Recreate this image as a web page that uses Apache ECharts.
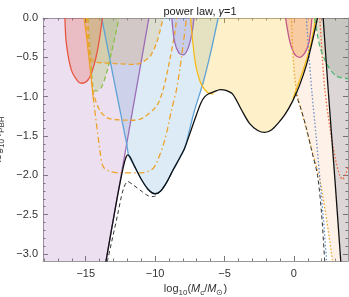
<!DOCTYPE html>
<html><head><meta charset="utf-8">
<script src="https://cdn.jsdelivr.net/npm/echarts@6/dist/echarts.min.js"></script>
<style>html,body{margin:0;padding:0;background:#fff}#c{width:349px;height:297px}</style>
</head><body><div id="c"></div>
<script>
// ---- tick labels ----
const xTickLabels = [-15, -10, -5, 0];
const xMinorTicks = [-18,-17,-16,-15,-14,-13,-12,-11,-10,-9,-8,-7,-6,-5,-4,-3,-2,-1,0,1,2,3];
const yTickLabels = [0, -0.5, -1, -1.5, -2, -2.5, -3];
const yMinorTicks = [0,-0.1,-0.2,-0.3,-0.4,-0.5,-0.6,-0.7,-0.8,-0.9,-1,-1.1,-1.2,-1.3,-1.4,-1.5,-1.6,-1.7,-1.8,-1.9,-2,-2.1,-2.2,-2.3,-2.4,-2.5,-2.6,-2.7,-2.8,-2.9,-3];

// ---- constraint regions (log10 M, log10 f) ----
const lavenderRegion = [[-18.1,0],[-10.45,0],[-13.55,-3.1],[-18.1,-3.1]];
const purpleLine = [[-13.55,-3.1],[-10.45,0]];
const blueCurve = [[-13.85,0],[-12.9,-0.85],[-12.06,-1.59],[-11.9,-1.75],[-11.5,-1.88],[-11,-2.05],[-10.5,-2.18],[-10.0,-2.235],[-9.6,-2.2],[-9.2,-2.1],[-8.7,-1.93],[-8.2,-1.77],[-7.86,-1.65],[-7.2,-1.2],[-6.54,-0.82],[-6.0,-0.44],[-5.46,0]];
const redCurve = [[-16.5,0],[-16.4,-0.32],[-16.04,-0.66],[-15.55,-0.81],[-15.3,-0.83],[-14.83,-0.785],[-14.47,-0.64],[-14.1,-0.36],[-13.8,0]];
const greenCurveL = [[-14.85,0],[-14.7,-0.4],[-14.5,-0.85],[-14.3,-0.93],[-13.9,-0.89],[-13.5,-0.7],[-13.15,-0.445],[-12.6,0]];
const orangeSolid = [[-15.12,0],[-14.9,-0.3],[-14.71,-0.6],[-14.47,-1.0]];
const orangeDash1 = [[-14.95,0],[-14.71,-0.49],[-14.3,-0.56],[-13.8,-0.57],[-11.5,-0.59],[-11,-0.57],[-10.38,-0.49],[-9.9,-0.32],[-9.42,0]];
const orangeDash2 = [[-14.85,0],[-14.5,-0.9],[-14.0,-1.17],[-13.3,-1.28],[-11.5,-1.3],[-10.87,-1.27],[-9.9,-1.12],[-9.42,-0.91],[-8.94,-0.53],[-8.58,-0.19],[-8.45,0]];
const orangeDashDot = [[-14.47,-1.0],[-13.98,-1.68],[-13.75,-1.89],[-13.27,-1.95],[-12.55,-1.97],[-11.1,-1.97],[-10.26,-1.93],[-9.9,-1.845],[-9.3,-1.55],[-8.82,-1.17],[-8.46,-0.91],[-8.1,-0.5],[-7.74,0]];
const purpleSmallU = [[-8.8,0],[-8.6,-0.3],[-8.3,-0.44],[-7.98,-0.47],[-7.62,-0.38],[-7.35,-0.2],[-7.2,0]];
const yellowCurve = [[-7.45,0],[-7.14,-0.53],[-6.9,-0.73],[-6.65,-0.85],[-6.2,-0.95],[-5.8,-0.965]];
const blackSolid = [[-13.55,-3.1],[-12.8,-2.35],[-12.3,-1.9],[-12.1,-1.77],[-11.97,-1.74],[-11.8,-1.77],[-11.5,-1.88],[-11,-2.05],[-10.5,-2.18],[-10.0,-2.235],[-9.6,-2.2],[-9.2,-2.1],[-8.7,-1.93],[-8.2,-1.77],[-7.86,-1.65],[-7.4,-1.42],[-7,-1.22],[-6.7,-1.08],[-6.42,-1.0],[-6.1,-0.96],[-5.8,-0.94],[-5.3,-0.91],[-4.9,-0.92],[-4.4,-0.97],[-3.77,-1.17],[-3.2,-1.34],[-2.6,-1.43],[-2.09,-1.455],[-1.6,-1.42],[-1.1,-1.33],[-0.65,-1.23],[-0.1,-1.06],[0.4,-0.86],[0.9,-0.6],[1.3,-0.32],[1.7,0]];
const blackDashL = [[-13.45,-3.1],[-12.7,-2.5],[-12.3,-2.18],[-11.97,-2.08],[-11.6,-2.12],[-11,-2.2],[-10.5,-2.26],[-10.1,-2.27],[-9.7,-2.22],[-9.2,-2.1],[-8.7,-1.93]];
const blackDashR = [[0.1,-0.95],[0.5,-1.15],[0.9,-1.4],[1.3,-1.7],[1.7,-2.0],[2.0,-2.5],[2.22,-3.1]];
const goldLine = [[-0.05,-1.02],[0.6,-0.7],[1.1,-0.42],[1.39,-0.19],[1.55,0]];
const pinkU = [[-0.6,0],[-0.29,-0.3],[0.05,-0.46],[0.4,-0.5],[0.8,-0.44],[1.1,-0.3],[1.3,0]];
const orangeDot1 = [[-0.17,0],[-0.05,-0.5],[0.19,-0.93],[0.8,-1.35],[1.4,-1.75],[1.87,-2.06],[2.3,-2.5],[2.8,-3.1]];
const blueDot = [[0.9,0],[1.1,-0.5],[1.3,-0.95],[1.6,-1.5],[1.9,-2.1],[2.15,-2.6],[2.36,-3.1]];
const redDot = [[1.87,0],[2.05,-0.5],[2.23,-0.91],[2.6,-1.4],[3.0,-1.8],[3.3,-2.0],[3.5,-2.05],[3.7,-2.0],[3.9,-1.9]];
const greenCurveR = [[1.5,0],[1.87,-0.36],[2.47,-0.615],[3.08,-0.74],[3.9,-0.77]];
const blackSteep = [[2.11,0],[2.47,-0.91],[2.96,-2.06],[3.38,-3.1]];

const C = {
  purple:'#9b6bb5', blue:'#5fa2d6', red:'#e8553f', green:'#8cc04a', green2:'#4fb874',
  orange:'#eda32b', yellow:'#f5bb16', pink:'#c2578a', redDot:'#ee6a3c', blueDot:'#6b8fc7'
};
const FONT = 'Liberation Sans';

function poly(points, fill) {
  return {
    type:'custom', silent:true, clip:true, z:1,
    data:[0],
    renderItem:function(params, api){
      return {type:'polygon', shape:{points:points.map(p=>api.coord(p))}, style:{fill:fill, stroke:null}};
    }
  };
}
function line(points, color, type, width, z) {
  return {type:'line', data:points, showSymbol:false, silent:true, smooth:0.3, z:z||3,
    lineStyle:{color:color, width:width||1.3, type:type||'solid'}, animation:false};
}
function xAx(pos, major, withLabel) {
  const a = {type:'value', min:-18.08, max:3.9, position:pos,
    axisLine:{show:major, onZero:false, lineStyle:{color:'#999', width:1}},
    axisTick:{show:true, inside:true, length:major?5:2.5, customValues:major?xTickLabels:xMinorTicks, lineStyle:{color:'#777'}},
    axisLabel:{show:false}, splitLine:{show:false}};
  if (withLabel) {
    a.axisLabel = {show:true, customValues:xTickLabels, color:'#333', fontSize:11, fontFamily:FONT, margin:7,
      formatter:v=> v<0 ? '\u2212'+(-v) : String(v)};
    a.name = 'log{s|10}({i|M}{s|c}/{i|M}{s|⊙})';
    a.nameLocation = 'middle'; a.nameGap = 20;
    a.nameTextStyle = {fontSize:11, color:'#333', fontFamily:FONT,
      rich:{s:{fontSize:8, padding:[6,0,0,0], color:'#333', fontFamily:FONT}, i:{fontStyle:'italic', fontSize:11, color:'#333', fontFamily:FONT}}};
  }
  return a;
}
function yAx(pos, major, withLabel) {
  const a = {type:'value', min:-3.09, max:0, position:pos,
    axisLine:{show:major, onZero:false, lineStyle:{color:'#999', width:1}},
    axisTick:{show:true, inside:true, length:major?5:2.5, customValues:major?yTickLabels:yMinorTicks, lineStyle:{color:'#777'}},
    axisLabel:{show:false}, splitLine:{show:false}};
  if (withLabel) {
    a.axisLabel = {show:true, customValues:yTickLabels, color:'#333', fontSize:11, fontFamily:FONT, margin:5,
      formatter:v=> (v<0 ? '\u2212' : '') + Math.abs(v).toFixed(1)};
    a.name = 'log{s|10} {i|f}{s|PBH}';
    a.nameLocation = 'middle'; a.nameGap = 34; a.nameRotate = 90;
    a.nameTextStyle = {fontSize:11, color:'#333', fontFamily:FONT,
      rich:{s:{fontSize:8, padding:[6,0,0,0], color:'#333', fontFamily:FONT}, i:{fontStyle:'italic', fontSize:11, color:'#333', fontFamily:FONT}}};
  }
  return a;
}

const yellowRegion = yellowCurve.concat(blackSolid.filter(p=>p[0]>-5.8 && p[0]< -0.05), goldLine);
const peachRegion = orangeDot1.concat(blackSteep.slice().reverse());
const grayRegion = blackSteep.concat([[3.95,-3.1],[3.95,0]]);
const greenRRegion = greenCurveR.concat([[3.95,0]]);
const orangeRegion = orangeSolid.slice(0,3).concat(orangeDash1.slice(2));

const option = {
  animation:false,
  title:{text:'power law, {i|γ}=1', left:195, top:1, textAlign:'center',
    textStyle:{fontSize:11, fontWeight:'normal', color:'#222', fontFamily:FONT,
      rich:{i:{fontStyle:'italic', fontSize:11, color:'#222', fontFamily:FONT}}}},
  grid:{left:43, top:18, right:1, bottom:36, containLabel:false, outerBoundsMode:'none'},
  xAxis:[ xAx('bottom', true, true), xAx('bottom', false, false), xAx('top', true, false), xAx('top', false, false) ],
  yAxis:[ yAx('left', true, true), yAx('left', false, false), yAx('right', true, false), yAx('right', false, false) ],
  series:[
    poly(lavenderRegion, 'rgba(170,110,180,0.22)'),
    poly(blueCurve, 'rgba(95,162,214,0.22)'),
    poly(yellowRegion, 'rgba(250,200,60,0.28)'),
    poly(orangeRegion, 'rgba(225,160,60,0.2)'),
    poly(redCurve, 'rgba(232,85,63,0.25)'),
    poly(greenCurveL, 'rgba(150,190,80,0.25)'),
    poly(purpleSmallU, 'rgba(140,110,190,0.25)'),
    poly(pinkU, 'rgba(235,120,80,0.3)'),
    poly(peachRegion, 'rgba(250,200,160,0.25)'),
    poly(grayRegion, 'rgba(120,90,90,0.25)'),
    poly(greenRRegion, 'rgba(120,140,110,0.2)'),
    line(purpleLine, C.purple),
    line(blueCurve, C.blue),
    line(redCurve, C.red),
    line(greenCurveL, C.green, [5,3]),
    line(orangeSolid, C.orange),
    line(orangeDash1, C.orange, [5,3]),
    line(orangeDash2, C.orange, [5,3]),
    line(orangeDashDot, C.orange, [6,3,1.5,3]),
    line(purpleSmallU, C.purple),
    line(yellowCurve, C.yellow),
    line(goldLine, C.yellow),
    line(pinkU, C.pink),
    line(orangeDot1, C.orange, [1.5,2]),
    line(blueDot, C.blueDot, [1.5,2]),
    line(redDot, C.redDot, [1.5,2]),
    line(greenCurveR, C.green2, [5,3]),
    line(blackDashL, '#333', [4,3], 1),
    line(blackDashR, '#333', [4,3], 1),
    line(blackSolid, '#111', 'solid', 1.3, 5),
    line(blackSteep, '#111', 'solid', 1.3, 5)
  ]
};
const chart = echarts.init(document.getElementById('c'), null, {renderer:'canvas'});
chart.setOption(option);
</script></body></html>
